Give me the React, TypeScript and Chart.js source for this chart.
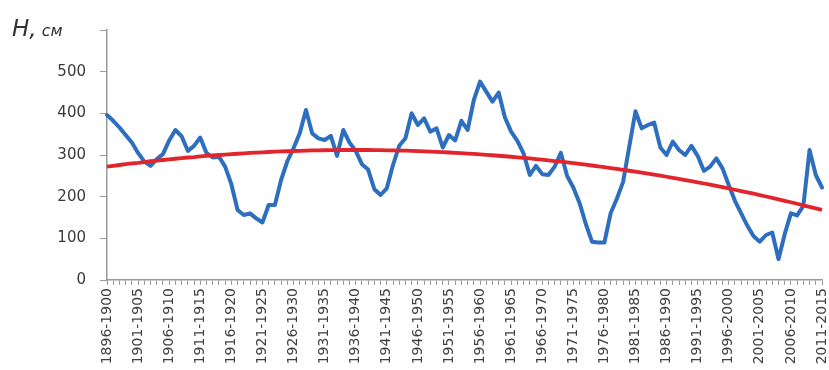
import React, { useEffect, useRef } from 'react';
import { Chart, registerables } from 'chart.js';

Chart.register(...registerables);

const startYears: number[] = Array.from({ length: 116 }, (_, i) => 1896 + i);
const categories: string[] = startYears.map((y) => `${y}-${y + 4}`);

const waterLevel: number[] = [
  396, 382, 366, 348, 330, 305, 284, 274, 290, 302,
  335, 360, 345, 310, 322, 342, 305, 294, 296, 272,
  230, 168, 156, 160, 148, 138, 180, 180, 240, 285,
  316, 352, 408, 352, 340, 336, 346, 298, 360, 330,
  310, 278, 265, 218, 204, 220, 276, 322, 340, 400,
  372, 388, 356, 364, 318, 348, 335, 382, 360, 432,
  476, 452, 428, 450, 390, 356, 334, 304, 252, 274,
  254, 252, 272, 305, 250, 222, 185, 135, 92, 90,
  90, 160, 195, 235, 320, 405, 364, 372, 378, 318,
  300, 332, 312, 300, 322, 298, 262, 272, 292, 268,
  228, 190, 160, 130, 105, 92, 108, 114, 50, 110,
  160, 155, 178, 312, 252, 222,
];

const trendLevel: number[] = [
  272, 274, 276, 278, 280, 281, 283, 285, 286.5, 288,
  289.6, 291, 292.5, 294, 295, 296.5, 297.7, 299, 300, 301,
  302, 303, 304, 305, 305.7, 306.5, 307.2, 308, 308.5, 309,
  309.6, 310, 310.5, 311, 311.2, 311.4, 311.6, 311.8, 312, 312,
  312, 312, 312, 311.7, 311.5, 311.3, 311, 310.6, 310.3, 309.8,
  309.3, 308.8, 308.2, 307.5, 306.8, 306, 305.3, 304.4, 303.5, 302.5,
  301.5, 300.5, 299.4, 298.2, 297, 295.8, 294.4, 293.1, 291.7, 290.2,
  288.7, 287.1, 285.5, 283.9, 282.1, 280.4, 278.6, 276.7, 274.8, 272.8,
  270.8, 268.7, 266.6, 264.4, 262.2, 259.9, 257.6, 255.2, 252.8, 250.3,
  247.8, 245.2, 242.6, 239.9, 237.2, 234.4, 231.6, 228.7, 225.7, 222.8,
  219.7, 216.6, 213.5, 210.3, 207.1, 203.8, 200.4, 197, 193.6, 190.1,
  186.6, 183, 179.3, 175.6, 171.9, 168.1,
];

const yMin = 0;
const yMax = 600;
const yStep = 100;
const labelEvery = 5;

export default function App() {
  const canvasRef = useRef<HTMLCanvasElement | null>(null);

  useEffect(() => {
    if (!canvasRef.current) return;
    const chart = new Chart(canvasRef.current, {
      type: 'line',
      data: {
        labels: categories,
        datasets: [
          {
            data: trendLevel,
            borderColor: '#E2242C',
            borderWidth: 3.8,
            pointRadius: 0,
            tension: 0,
            order: 0,
          },
          {
            data: waterLevel,
            borderColor: '#2E6EBE',
            borderWidth: 4,
            pointRadius: 0,
            tension: 0,
            borderJoinStyle: 'round',
            borderCapStyle: 'round',
            order: 1,
          },
        ],
      },
      options: {
        animation: false,
        responsive: true,
        maintainAspectRatio: false,
        layout: { padding: { top: 30, right: 7, left: 0, bottom: 0 } },
        plugins: {
          legend: { display: false },
          tooltip: { enabled: false },
          title: { display: false },
        },
        scales: {
          x: {
            type: 'category',
            offset: false,
            grid: {
              drawOnChartArea: false,
              color: '#9a9a9a',
              tickLength: 5,
              tickWidth: 1,
            },
            border: { color: '#9a9a9a', width: 1.5 },
            ticks: {
              autoSkip: false,
              maxRotation: 90,
              minRotation: 90,
              padding: 3,
              color: '#404040',
              font: { family: 'DejaVu Sans', size: 14 },
              callback: (_v: any, i: number) => (i % labelEvery === 0 ? categories[i] : ''),
            },
            afterFit: (scale: any) => {
              scale.height = 90;
              scale.paddingLeft = 0;
              scale.paddingRight = 0;
            },
          },
          y: {
            min: yMin,
            max: yMax,
            grid: {
              drawOnChartArea: false,
              color: '#9a9a9a',
              tickLength: 7,
              tickWidth: 1,
            },
            border: { color: '#9a9a9a', width: 1.5 },
            ticks: {
              stepSize: yStep,
              padding: 14,
              color: '#3a3a3a',
              font: { family: 'DejaVu Sans', size: 15 },
              callback: (v: any) => (v === yMax ? '' : String(v)),
            },
            afterFit: (scale: any) => {
              scale.width = 107;
              scale.paddingTop = 0;
              scale.paddingBottom = 0;
            },
          },
        },
      },
    });
    return () => chart.destroy();
  }, []);

  return (
    <div style={{ position: 'absolute', left: 0, top: 0, width: 829, height: 370, background: '#fff' }}>
      <canvas ref={canvasRef} />
      <div
        style={{
          position: 'absolute',
          left: 12,
          top: 17,
          fontFamily: 'DejaVu Sans',
          color: '#333',
          lineHeight: 1,
          whiteSpace: 'nowrap',
        }}
      >
        <span style={{ fontSize: 23, fontStyle: 'italic' }}>H,</span>
        <span style={{ fontSize: 16, fontStyle: 'italic' }}> см</span>
      </div>
    </div>
  );
}
